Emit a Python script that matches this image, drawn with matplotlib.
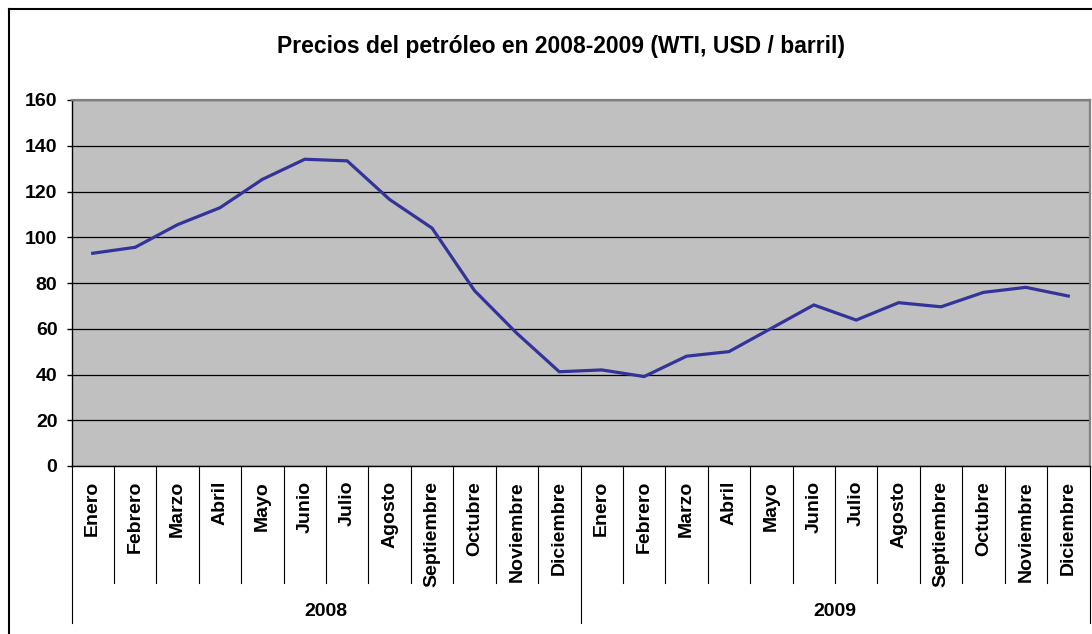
import matplotlib.pyplot as plt
from matplotlib.lines import Line2D
from matplotlib.transforms import blended_transform_factory

plt.rcParams['font.family'] = ['Liberation Sans', 'DejaVu Sans']
plt.rcParams['font.weight'] = 'bold'

# Data (WTI monthly average, USD / barrel)
meses = ['Enero', 'Febrero', 'Marzo', 'Abril', 'Mayo', 'Junio', 'Julio',
         'Agosto', 'Septiembre', 'Octubre', 'Noviembre', 'Diciembre']
anios = ['2008', '2009']
precio_2008 = [93.0, 95.6, 105.5, 112.9, 125.3, 134.1, 133.4,
               116.5, 104.0, 76.7, 58.0, 41.2]
precio_2009 = [42.0, 39.1, 48.0, 50.0, 60.2, 70.4, 63.8,
               71.4, 69.6, 75.9, 78.1, 74.3]

precios = precio_2008 + precio_2009
etiquetas = meses * len(anios)
n = len(precios)

W, H = 1092, 634
fig = plt.figure(figsize=(W / 100, H / 100), dpi=100)
fig.patch.set_facecolor('white')

def fy(py):
    return 1 - py / H

left, right, top, bottom = 71.5, 1089.5, 100, 466
ax = fig.add_axes([left / W, fy(bottom), (right - left) / W, (bottom - top) / H])
ax.set_facecolor('#C0C0C0')

x = [i + 0.5 for i in range(n)]
ax.plot(x, precios, color='#333399', lw=2.3, solid_joinstyle='miter', zorder=3)

ax.set_xlim(0, n)
ax.set_ylim(0, 160)
ax.set_yticks(range(0, 161, 20))
ax.tick_params(axis='y', labelsize=14, length=3.6, width=1, direction='out', pad=6.5)
ax.set_xticks([])
ax.yaxis.grid(True, color='black', lw=0.9)
ax.set_axisbelow(True)

for s in ['top', 'right']:
    ax.spines[s].set_color('#808080')
    ax.spines[s].set_linewidth(1.6)
ax.spines['left'].set_color('black')
ax.spines['bottom'].set_color('black')
ax.spines['left'].set_linewidth(1)
ax.spines['bottom'].set_linewidth(1)

# multi-level category axis
tr = blended_transform_factory(ax.transData, fig.transFigure)
for k in range(1, n):
    if k % 12 == 0:
        continue
    fig.add_artist(Line2D([k, k], [fy(bottom), fy(583)], transform=tr, color='black', lw=0.8))
for k in range(0, n + 1, 12):
    fig.add_artist(Line2D([k, k], [fy(bottom), fy(623)], transform=tr, color='black', lw=0.8))

for xi, lab in zip(x, etiquetas):
    fig.text(xi, fy(481), lab, transform=tr, rotation=90, ha='center', va='top',
             fontsize=14, fontweight='bold')

for j, a in enumerate(anios):
    fig.text(12 * j + 6, fy(611), a, transform=tr, ha='center', va='center',
             fontsize=14, fontweight='bold')

# title
fig.text(561 / W, fy(46), 'Precios del petróleo en 2008-2009 (WTI, USD / barril)',
         ha='center', va='center', fontsize=16.5, fontweight='bold')

# chart border (left and top visible)
fig.add_artist(Line2D([9 / W, 9 / W], [0, fy(9)], transform=fig.transFigure, color='black', lw=1.5))
fig.add_artist(Line2D([9 / W, 1], [fy(9), fy(9)], transform=fig.transFigure, color='black', lw=1.5))

fig.savefig('out.png', dpi=100)
